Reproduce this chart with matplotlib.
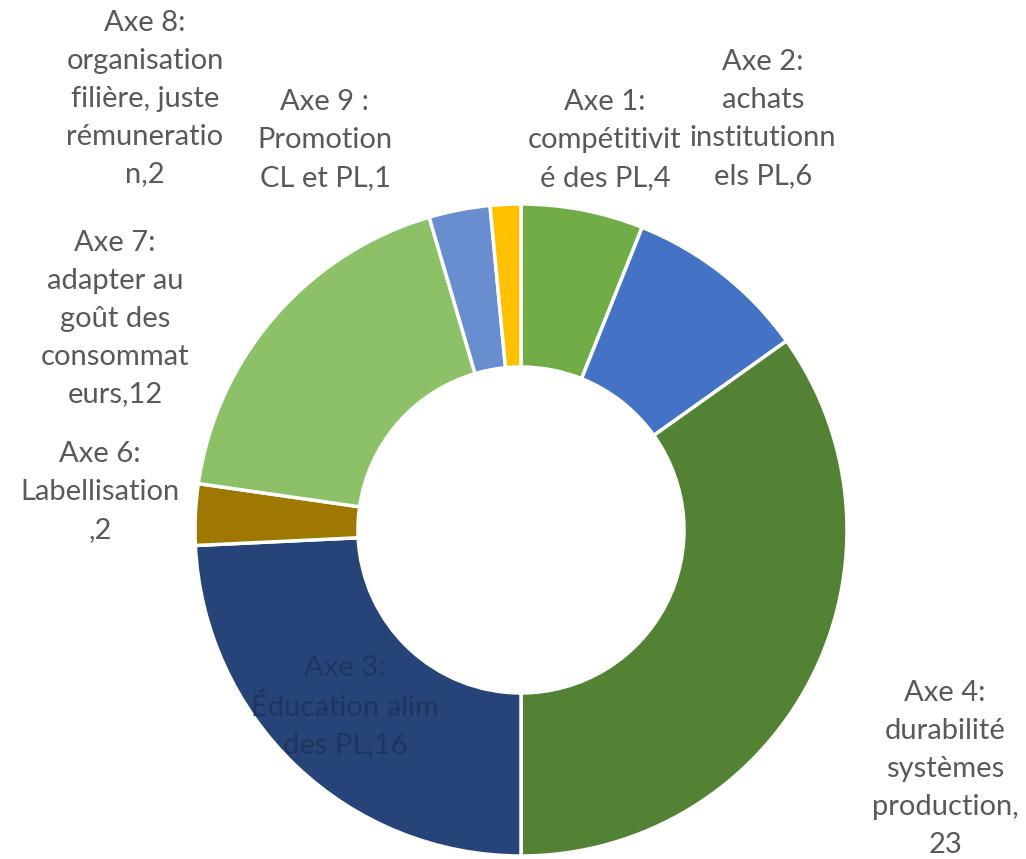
import numpy as np
import matplotlib.pyplot as plt

# data (clockwise from 12 o'clock)
labels = ["Axe 1:\ncompétitivit\né des PL,4",
          "Axe 2:\nachats\ninstitutionn\nels PL,6",
          "Axe 4:\ndurabilité\nsystèmes\nproduction,\n23",
          "Axe 3:\nÉducation alim\ndes PL,16",
          "Axe 6:\nLabellisation\n,2",
          "Axe 7:\nadapter au\ngoût des\nconsommat\neurs,12",
          "Axe 8:\norganisation\nfilière, juste\nrémuneratio\nn,2",
          "Axe 9 :\nPromotion\nCL et PL,1"]
values = [4, 6, 23, 16, 2, 12, 2, 1]
colors = ["#70AD47", "#4472C4", "#548235", "#264478",
          "#9E7800", "#8CC168", "#698ED0", "#FFC000"]

# label centres in pixels (x, y from top)
label_px = [(605, 140), (763, 119), (945, 769), (345, 707),
            (100, 492), (115, 319), (145, 99), (325, 140)]

W, H = 1026, 859
cx, cy, R = 521, 530, 326

fig = plt.figure(figsize=(W / 100, H / 100), dpi=100)
ax = fig.add_axes([0, 0, 1, 1])
ax.pie(values, colors=colors, startangle=90, counterclock=False, radius=1,
       wedgeprops=dict(width=0.5, edgecolor="white", linewidth=2.5))
ax.set_xlim(-cx / R, (W - cx) / R)
ax.set_ylim(-(H - cy) / R, cy / R)
ax.set_aspect("auto")
ax.axis("off")

for i, (lab, (px, py)) in enumerate(zip(labels, label_px)):
    col = "#1E3562" if i == 3 else "#595959"
    ax.text((px - cx) / R, (cy - py) / R, lab, ha="center", va="center",
            fontsize=21, color=col, family="Lato", linespacing=1.56)

plt.savefig("out.png", dpi=100)
